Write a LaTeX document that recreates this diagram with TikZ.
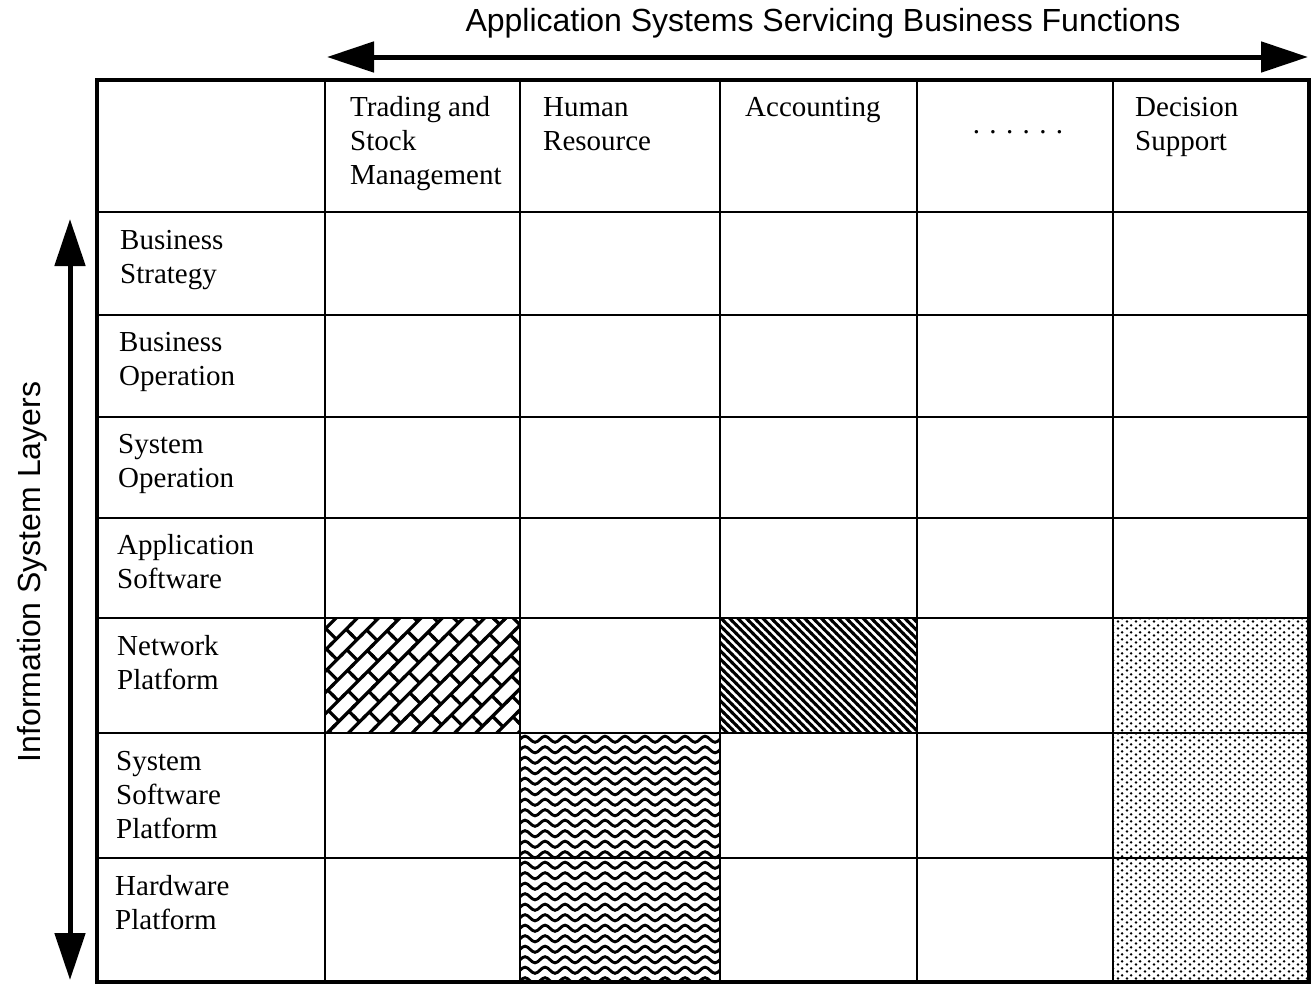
\documentclass[tikz,border=0pt]{standalone}
\usepackage{fontspec}
\setmainfont{Liberation Serif}
\newfontfamily\arialfont{Liberation Sans}
\usetikzlibrary{arrows.meta,patterns.meta}

\newcommand\celllines[1]{\begin{tabular}[t]{@{}l@{}}#1\end{tabular}}

\tikzdeclarepattern{
  name=diagstripes,
  type=uncolored,
  bottom left={(-1pt,-1pt)},
  top right={(7pt,7pt)},
  tile size={(5.9pt,5.9pt)},
  tile transformation={rotate=-45},
  code={\draw[line width=3pt] (-1pt,2.95pt) -- (7pt,2.95pt);}
}
\tikzdeclarepattern{
  name=bricks,
  type=uncolored,
  bottom left={(-2pt,-2pt)},
  top right={(30pt,32pt)},
  tile size={(28pt,30pt)},
  tile transformation={rotate=45},
  code={\draw[line width=3.2pt]
      (-2pt,7.5pt) -- (30pt,7.5pt) (-2pt,22.5pt) -- (30pt,22.5pt)
      (7pt,7.5pt) -- (7pt,22.5pt)
      (21pt,22.5pt) -- (21pt,32pt) (21pt,-2pt) -- (21pt,7.5pt);}
}
\tikzdeclarepattern{
  name=waves,
  type=uncolored,
  bottom left={(-2pt,-2pt)},
  top right={(22pt,12.5pt)},
  tile size={(20pt,10.5pt)},
  code={\draw[line width=2.9pt,line cap=round] (0pt,5.25pt) sin (5pt,8.3pt) cos (10pt,5.25pt) sin (15pt,2.2pt) cos (20pt,5.25pt);}
}
\tikzdeclarepattern{
  name=stipple,
  type=uncolored,
  bottom left={(0pt,0pt)},
  top right={(9pt,7pt)},
  tile size={(9pt,7pt)},
  code={\fill (2.25pt,1.75pt) circle (1.5pt) (6.75pt,5.25pt) circle (1.5pt);}
}

\tikzset{
  celltext/.style={anchor=base west, inner sep=0pt, font=\fontsize{29}{34}\selectfont},
  gridline/.style={line width=2.4pt},
  framebox/.style={line width=4.6pt},
  bigarrow/.style={line width=5pt, {Triangle[length=47pt,width=30pt]}-{Triangle[length=47pt,width=30pt]}},
  titletext/.style={font=\arialfont\fontsize{32}{36}\selectfont, inner sep=0pt, anchor=base},
  patcell/.style={pattern=#1, pattern color=black}
}

\begin{document}
\begin{tikzpicture}[x=1pt,y=-1pt]
\useasboundingbox (0,0) rectangle (1315,986);

% patterned cells
\fill[patcell=bricks] (325,618) rectangle (520,733);
\fill[patcell=diagstripes] (720,618) rectangle (917,733);
\fill[patcell=waves] (520,733) rectangle (720,982);
\fill[patcell=stipple] (1113,618) rectangle (1309,982);

% grid
\foreach \yy in {212,315,417,518,618,733,858}
  \draw[gridline] (97,\yy) -- (1309,\yy);
\foreach \xx in {325,520,720,917,1113}
  \draw[gridline] (\xx,80) -- (\xx,982);
\draw[framebox] (97,80) rectangle (1309,982);

% column headers
\node[celltext] (h1) at (350,116) {\celllines{Trading and\\Stock\\Management}};
\node[celltext] (h2) at (543,116) {\celllines{Human\\Resource}};
\node[celltext] (h3) at (745,116) {Accounting};
\node[anchor=base, inner sep=0pt, font=\fontsize{29}{34}\selectfont] (h4) at (1018,133)
  {.\hspace{9.4pt}.\hspace{9.4pt}.\hspace{9.4pt}.\hspace{9.4pt}.\hspace{9.4pt}.};
\node[celltext] (h5) at (1135,116) {\celllines{Decision\\Support}};

% row labels
\node[celltext] (r1) at (120,249) {\celllines{Business\\Strategy}};
\node[celltext] (r2) at (119,351) {\celllines{Business\\Operation}};
\node[celltext] (r3) at (118,453) {\celllines{System\\Operation}};
\node[celltext] (r4) at (117,554) {\celllines{Application\\Software}};
\node[celltext] (r5) at (117,655) {\celllines{Network\\Platform}};
\node[celltext] (r6) at (116,770) {\celllines{System\\Software\\Platform}};
\node[celltext] (r7) at (115,895) {\celllines{Hardware\\Platform}};

% axis titles and arrows
\node[titletext] (ttop) at (823,31) {Application Systems Servicing Business Functions};
\node[titletext, rotate=90] (tleft) at (40,572) {Information System Layers};

\coordinate (hl) at (327,57);
\coordinate (hr) at (1308,57);
\coordinate (vt) at (70,219);
\coordinate (vb) at (70,980);
\draw[bigarrow] (hl) -- (hr);
\draw[bigarrow] (vt) -- (vb);
\end{tikzpicture}
\end{document}
